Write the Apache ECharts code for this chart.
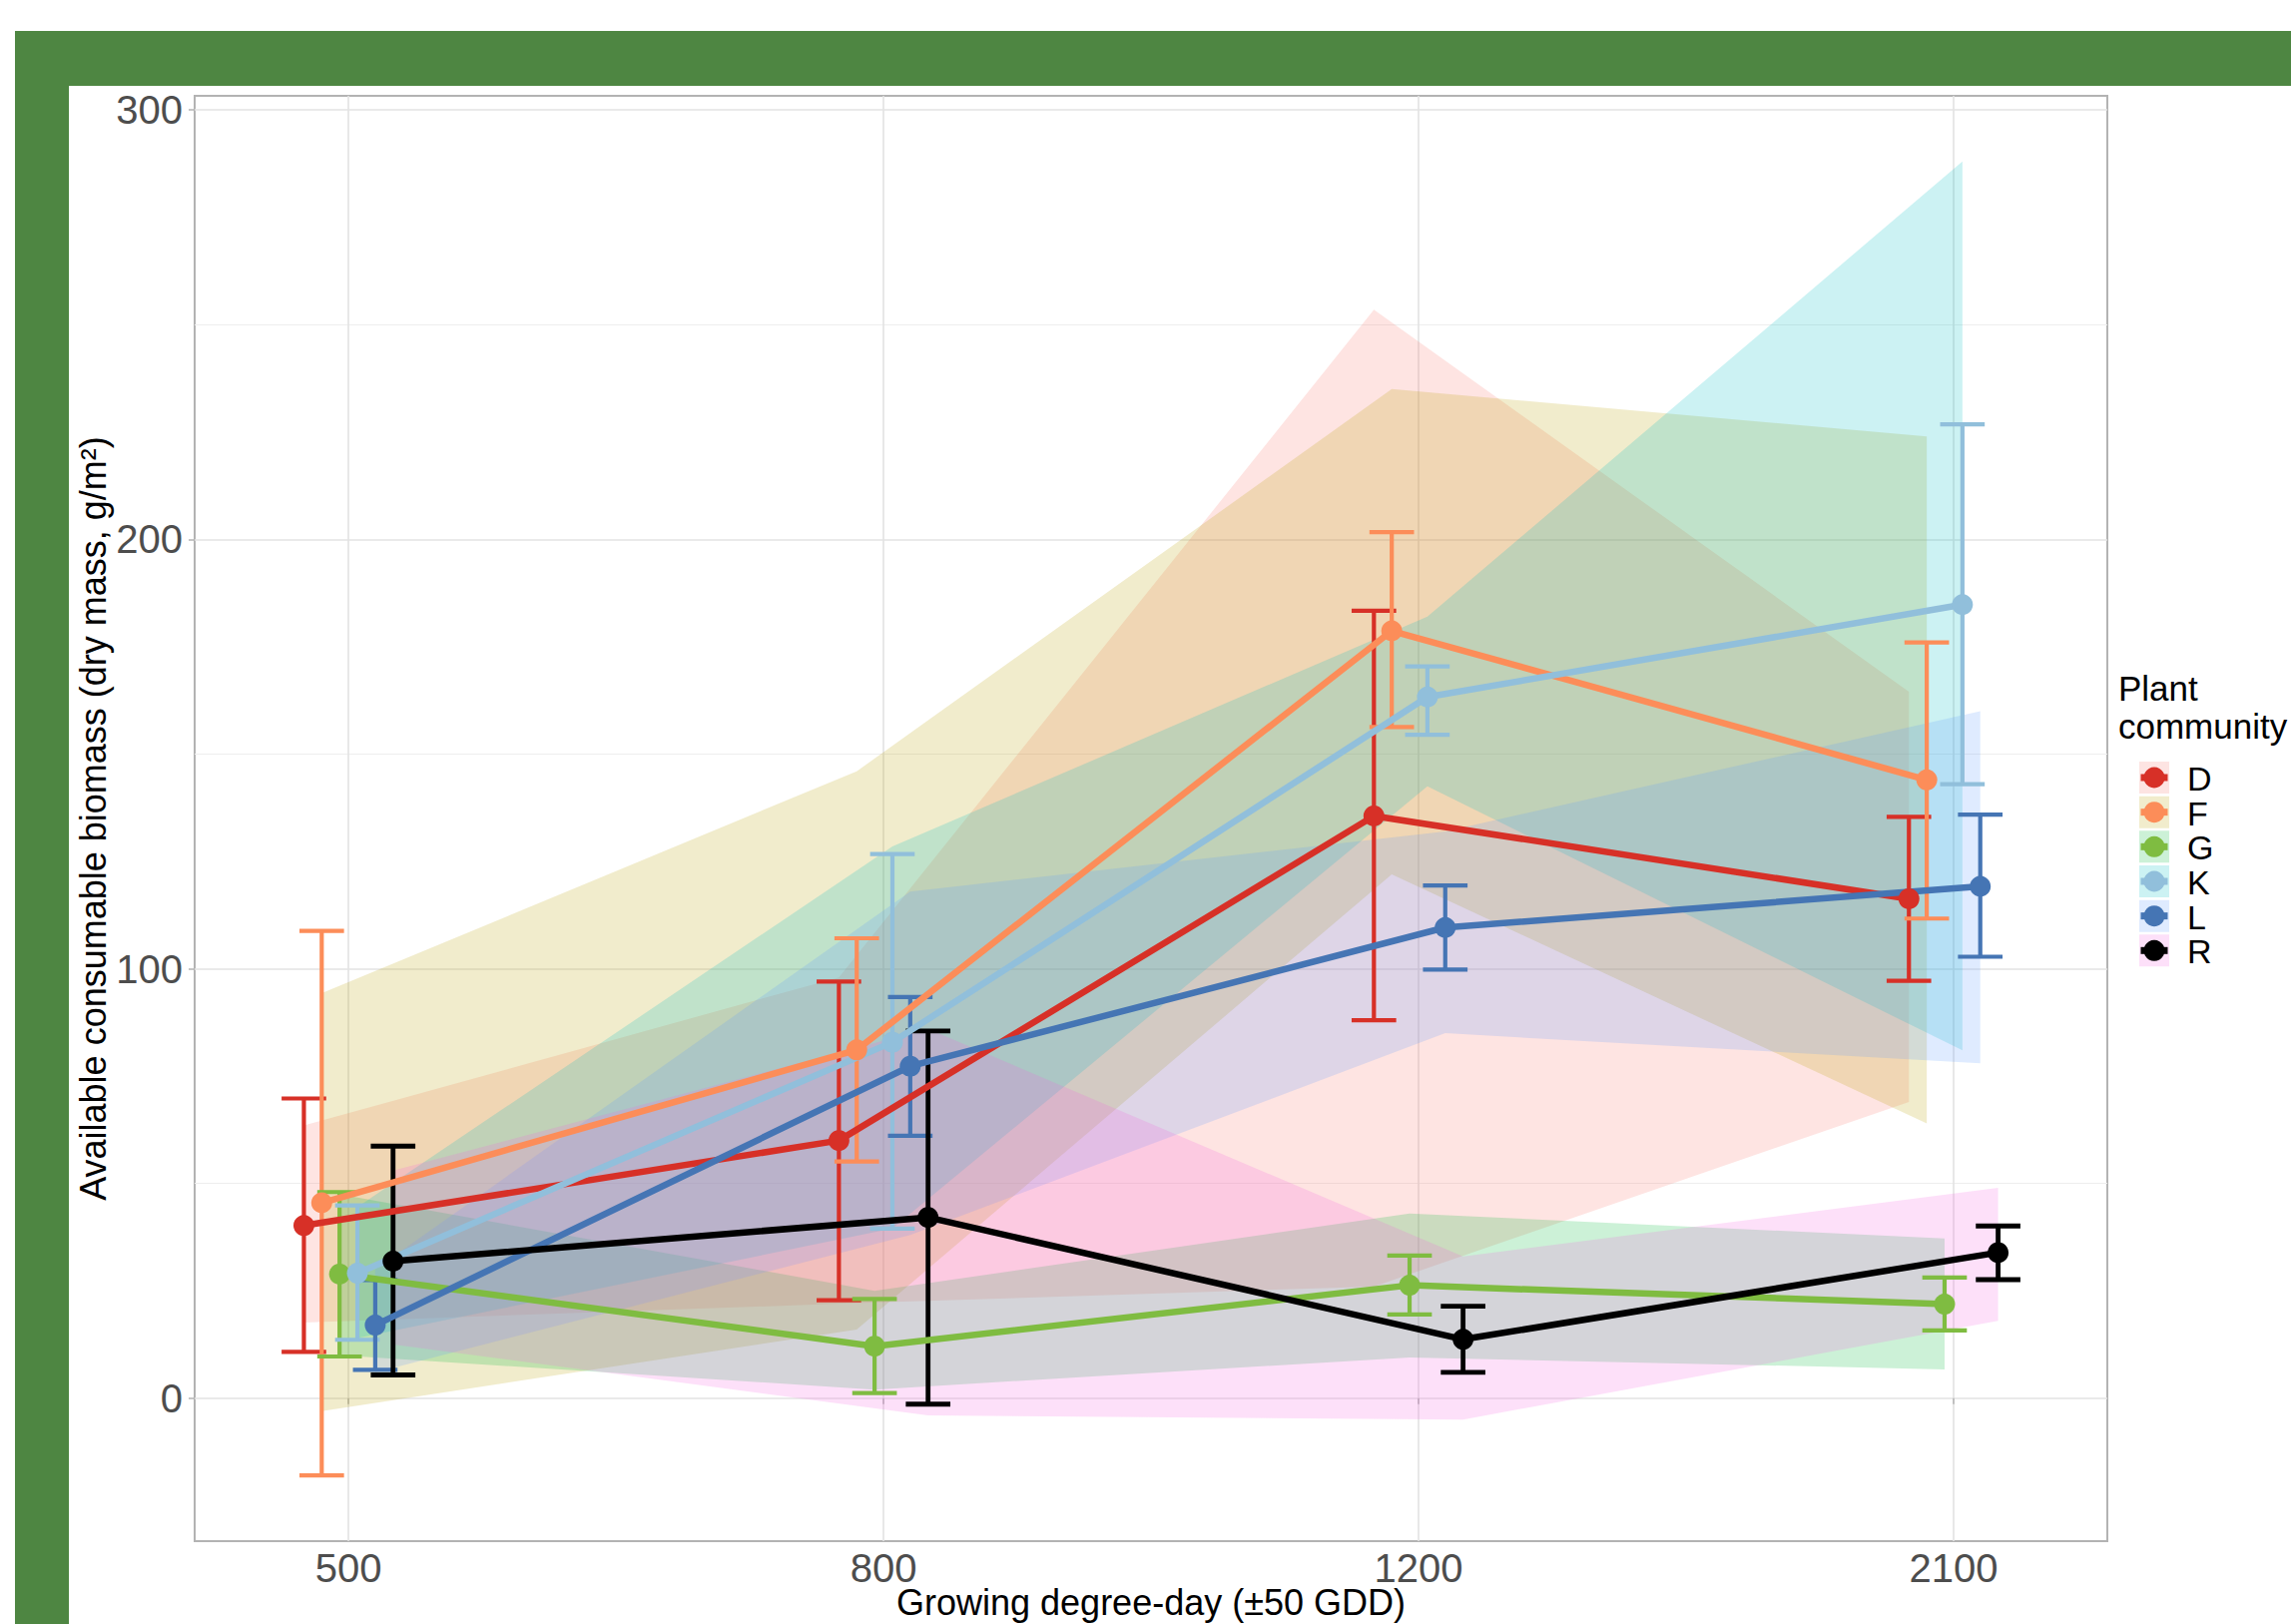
<!DOCTYPE html>
<html><head><meta charset="utf-8">
<script src="https://cdn.jsdelivr.net/npm/echarts@6/dist/echarts.min.js"></script>
<style>html,body{margin:0;padding:0;background:#fff}#c{width:2295px;height:1627px}</style>
</head><body><div id="c"></div>
<script>
// ---- data ----
const categories = ['500', '800', '1200', '2100'];
const groups = ['D', 'F', 'G', 'K', 'L', 'R'];

const D_mean = [40.2, 60.0, 135.6, 116.3];
const D_errLo = [10.8, 22.8, 88.0, 97.2];
const D_errHi = [69.8, 97.0, 183.4, 135.4];
const D_ribLo = [17.6, 22.0, 26.0, 69.0];
const D_ribHi = [63.5, 98.0, 253.5, 164.5];

const F_mean = [45.5, 81.1, 178.7, 144.0];
const F_errLo = [-18.0, 55.1, 156.3, 111.7];
const F_errHi = [108.8, 107.1, 201.7, 176.0];
const F_ribLo = [-3.0, 16.0, 122.0, 64.0];
const F_ribHi = [94.3, 146.0, 235.0, 224.0];

const G_mean = [28.9, 12.1, 26.3, 21.9];
const G_errLo = [9.7, 1.2, 19.5, 15.8];
const G_errHi = [48.0, 23.1, 33.2, 28.1];
const G_ribLo = [10.0, 2.0, 9.5, 6.7];
const G_ribHi = [47.5, 25.0, 43.0, 37.2];

const K_mean = [29.1, 82.9, 163.3, 184.8];
const K_errLo = [13.6, 39.5, 154.5, 143.0];
const K_errHi = [44.9, 126.7, 170.4, 226.8];
const K_ribLo = [14.0, 39.5, 142.5, 81.0];
const K_ribHi = [44.5, 128.5, 182.0, 288.0];

const L_mean = [17.0, 77.3, 109.6, 119.2];
const L_errLo = [6.6, 61.1, 99.8, 102.8];
const L_errHi = [27.5, 93.4, 119.4, 135.9];
const L_ribLo = [6.0, 38.0, 85.0, 78.0];
const L_ribHi = [30.0, 118.0, 132.0, 160.0];

const R_mean = [31.9, 42.1, 13.7, 33.9];
const R_errLo = [5.4, -1.4, 6.0, 27.6];
const R_errHi = [58.7, 85.5, 21.4, 40.1];
const R_ribLo = [12.5, -4.0, -5.0, 18.0];
const R_ribHi = [53.0, 86.0, 33.0, 49.0];

const yMajorTicks = [0, 100, 200, 300];
const yMinorTicks = [50, 150, 250];

// ---- styling ----
const lineColors = { D: '#D73027', F: '#FC8D59', G: '#7FBC41', K: '#91BFDB', L: '#4575B4', R: '#000000' };
const ribbonColors = { D: 'rgba(248,118,109,0.2)', F: 'rgba(183,159,0,0.2)', G: 'rgba(0,186,56,0.2)',
  K: 'rgba(0,191,196,0.2)', L: 'rgba(97,156,255,0.2)', R: 'rgba(245,100,227,0.2)' };
const keyColors = { D: '#FDE4E2', F: '#F1ECCC', G: '#CCF1D7', K: '#CCF2F3', L: '#DFEBFF', R: '#FDE0F9' };

const seriesData = {
  D: { mean: D_mean, errLo: D_errLo, errHi: D_errHi, ribLo: D_ribLo, ribHi: D_ribHi },
  F: { mean: F_mean, errLo: F_errLo, errHi: F_errHi, ribLo: F_ribLo, ribHi: F_ribHi },
  G: { mean: G_mean, errLo: G_errLo, errHi: G_errHi, ribLo: G_ribLo, ribHi: G_ribHi },
  K: { mean: K_mean, errLo: K_errLo, errHi: K_errHi, ribLo: K_ribLo, ribHi: K_ribHi },
  L: { mean: L_mean, errLo: L_errLo, errHi: L_errHi, ribLo: L_ribLo, ribHi: L_ribHi },
  R: { mean: R_mean, errLo: R_errLo, errHi: R_errHi, ribLo: R_ribLo, ribHi: R_ribHi }
};

const FONT = '"Liberation Sans", Arial, Helvetica, sans-serif';
const dodgeWidth = 0.2;
const capHalf = 0.125 - dodgeWidth / 2 * (5 / 6); // errorbar half width in axis units
function dodge(gi) { return (gi - (groups.length - 1) / 2) * dodgeWidth / groups.length; }

// axis extents like ggplot (5% expansion)
let allY = [];
groups.forEach(g => { const s = seriesData[g]; allY = allY.concat(s.mean, s.errLo, s.errHi, s.ribLo, s.ribHi); });
const yLo = Math.min(...allY), yHi = Math.max(...allY), yPad = 0.05 * (yHi - yLo);
const xLo = 1 - 0.125, xHi = categories.length + 0.125, xPad = 0.05 * (xHi - xLo);

const series = [];
// ribbons
groups.forEach((g, gi) => {
  const s = seriesData[g];
  const xs = categories.map((c, ci) => ci + 1 + dodge(gi));
  series.push({
    type: 'custom', name: g + ' band', z: 1, silent: true,
    data: xs.map((x, i) => [x, s.ribLo[i], s.ribHi[i]]),
    encode: { x: 0, y: [1, 2] },
    renderItem: function (params, api) {
      if (params.dataIndex !== 0) return;
      const pts = [];
      for (let i = 0; i < xs.length; i++) pts.push(api.coord([xs[i], s.ribHi[i]]));
      for (let i = xs.length - 1; i >= 0; i--) pts.push(api.coord([xs[i], s.ribLo[i]]));
      return { type: 'polygon', shape: { points: pts }, style: { fill: ribbonColors[g] } };
    }
  });
});
// error bars
groups.forEach((g, gi) => {
  const s = seriesData[g];
  const w = g === 'R' ? 4.8 : 4.2;
  series.push({
    type: 'custom', name: g + ' err', z: 3, silent: true,
    data: categories.map((c, ci) => [ci + 1 + dodge(gi), s.errLo[ci], s.errHi[ci]]),
    encode: { x: 0, y: [1, 2] },
    renderItem: function (params, api) {
      const x = api.value(0), lo = api.value(1), hi = api.value(2);
      const a = api.coord([x, lo]), b = api.coord([x, hi]);
      const l1 = api.coord([x - capHalf, hi]), r1 = api.coord([x + capHalf, hi]);
      const l2 = api.coord([x - capHalf, lo]), r2 = api.coord([x + capHalf, lo]);
      const st = { stroke: lineColors[g], lineWidth: w };
      return { type: 'group', children: [
        { type: 'line', shape: { x1: a[0], y1: a[1], x2: b[0], y2: b[1] }, style: st },
        { type: 'line', shape: { x1: l1[0], y1: l1[1], x2: r1[0], y2: r1[1] }, style: st },
        { type: 'line', shape: { x1: l2[0], y1: l2[1], x2: r2[0], y2: r2[1] }, style: st }
      ] };
    }
  });
});
// lines + points
groups.forEach((g, gi) => {
  const s = seriesData[g];
  series.push({
    type: 'line', name: g, z: 4,
    data: categories.map((c, ci) => [ci + 1 + dodge(gi), s.mean[ci]]),
    symbol: 'circle', symbolSize: 21, showSymbol: true,
    lineStyle: { color: lineColors[g], width: 6.5 },
    itemStyle: { color: lineColors[g] },
    emphasis: { disabled: true }, animation: false
  });
});

// legend drawn as graphic
const legendX = 2143, legendRow0 = 779, legendPitch = 34.66;
const graphics = [
  { type: 'rect', shape: { x: 15, y: 31, width: 2280, height: 55 }, style: { fill: '#4E8642' }, z: 100 },
  { type: 'rect', shape: { x: 15, y: 31, width: 54, height: 1596 }, style: { fill: '#4E8642' }, z: 100 },
  { type: 'text', x: 93.5, y: 820, rotation: Math.PI / 2,
    style: { text: 'Available consumable biomass (dry mass, g/m²)', font: '36px ' + FONT, fill: '#000', align: 'center', verticalAlign: 'middle' } },
  { type: 'text', x: 1153, y: 1605,
    style: { text: 'Growing degree-day (±50 GDD)', font: '36px ' + FONT, fill: '#000', align: 'center', verticalAlign: 'middle' } },
  { type: 'text', x: 2122, y: 689, style: { text: 'Plant', font: '35px ' + FONT, fill: '#000', align: 'left', verticalAlign: 'middle' } },
  { type: 'text', x: 2122, y: 727, style: { text: 'community', font: '35px ' + FONT, fill: '#000', align: 'left', verticalAlign: 'middle' } }
];
groups.forEach((g, gi) => {
  const cy = legendRow0 + gi * legendPitch;
  graphics.push({ type: 'rect', shape: { x: legendX, y: cy - 16, width: 30, height: 32 }, style: { fill: keyColors[g] } });
  graphics.push({ type: 'line', shape: { x1: legendX + 1.5, y1: cy, x2: legendX + 28.5, y2: cy }, style: { stroke: lineColors[g], lineWidth: 7 } });
  graphics.push({ type: 'circle', shape: { cx: legendX + 15, cy: cy, r: 10.5 }, style: { fill: lineColors[g] } });
  graphics.push({ type: 'text', x: 2191, y: cy + 1, style: { text: g, font: '34px ' + FONT, fill: '#000', align: 'left', verticalAlign: 'middle' } });
});

const chart = echarts.init(document.getElementById('c'), null, { renderer: 'svg', width: 2295, height: 1627 });
chart.setOption({
  animation: false,
  backgroundColor: '#ffffff',
  textStyle: { fontFamily: FONT },
  grid: { left: 195, top: 96, width: 1916, height: 1448, show: true, borderColor: '#b3b3b3', borderWidth: 2,
    backgroundColor: 'transparent', containLabel: false, outerBoundsMode: 'none' },
  xAxis: {
    type: 'value', min: xLo - xPad, max: xHi + xPad,
    axisLine: { show: false },
    axisTick: { show: true, customValues: [1, 2, 3, 4], length: 6, lineStyle: { color: '#b3b3b3', width: 1.5 } },
    axisLabel: { customValues: [1, 2, 3, 4], formatter: v => categories[Math.round(v) - 1], fontSize: 40, color: '#4d4d4d', margin: 7, fontFamily: FONT },
    splitLine: { show: true, lineStyle: { color: '#e3e3e3', width: 1.6 } }
  },
  yAxis: [{
    type: 'value', min: yLo - yPad, max: yHi + yPad, position: 'left',
    axisLine: { show: false },
    axisTick: { show: true, customValues: yMajorTicks, length: 6, lineStyle: { color: '#b3b3b3', width: 1.5 } },
    axisLabel: { customValues: yMajorTicks, fontSize: 40, color: '#4d4d4d', margin: 12, fontFamily: FONT },
    splitLine: { show: true, lineStyle: { color: '#e3e3e3', width: 1.6 } }
  }, {
    type: 'value', min: yLo - yPad, max: yHi + yPad, position: 'left',
    axisLine: { show: false },
    axisTick: { show: false, customValues: yMinorTicks },
    axisLabel: { show: false, customValues: yMinorTicks },
    splitLine: { show: true, lineStyle: { color: '#eeeeee', width: 1 } }
  }],
  series: series,
  graphic: graphics
});
</script>
</body></html>
